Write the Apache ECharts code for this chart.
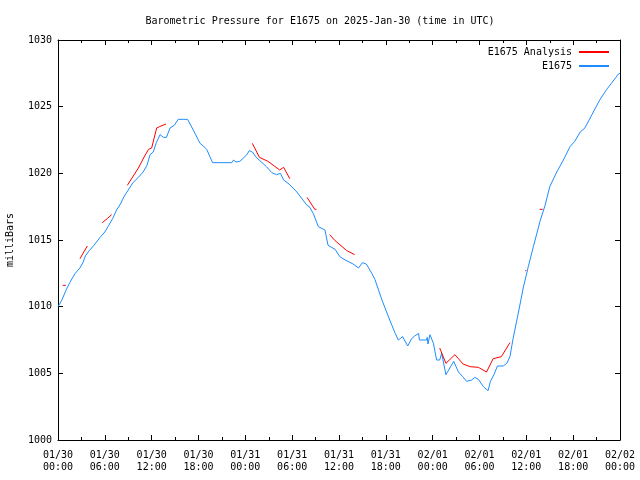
<!DOCTYPE html>
<html><head><meta charset="utf-8">
<script src="https://cdn.jsdelivr.net/npm/echarts@6/dist/echarts.min.js"></script>
<style>html,body{margin:0;padding:0;background:#fff}#c{width:640px;height:480px}</style>
</head><body><div id="c"></div>
<script>
// hours since 2025-01-30 00:00 UTC
const xTickLabels = ['01/30\n00:00','01/30\n06:00','01/30\n12:00','01/30\n18:00','01/31\n00:00','01/31\n06:00','01/31\n12:00','01/31\n18:00','02/01\n00:00','02/01\n06:00','02/01\n12:00','02/01\n18:00','02/02\n00:00'];

const stationHours = [0.0,0.5,1.0,1.5,2.2,2.8,3.2,3.5,4.0,4.6,5.4,6.0,6.5,7.0,7.5,8.0,8.5,9.0,9.6,10.3,10.9,11.4,11.8,12.2,12.6,13.07,13.5,13.9,14.35,14.9,15.4,16.05,16.3,16.6,17.33,18.2,18.7,19.05,19.8,22.25,22.5,22.8,23.3,24.2,24.5,24.9,25.4,26.7,27.4,28.0,28.5,28.9,29.6,29.8,30.6,31.9,32.2,32.7,33.35,34.2,34.6,35.5,36.1,36.8,37.0,37.8,38.5,39.0,39.5,39.7,40.2,40.6,40.8,41.5,42.5,43.2,43.6,44.15,44.4,44.8,45.3,45.7,46.2,46.3,47.2,47.3,47.4,47.65,48.1,48.5,48.9,49.15,49.7,50.2,50.7,51.3,51.85,52.35,53.0,53.4,53.85,54.5,55.1,55.4,55.85,56.3,57.05,57.5,57.9,58.3,59.0,59.6,60.25,60.9,61.4,61.75,62.4,63.0,63.9,64.75,65.6,66.2,66.9,67.5,68.4,69.4,70.3,70.9,71.8,72.0];
const stationValues = [1010.0,1010.5,1011.2,1011.8,1012.5,1012.9,1013.3,1013.8,1014.2,1014.6,1015.2,1015.6,1016.1,1016.6,1017.25,1017.7,1018.3,1018.75,1019.3,1019.7,1020.1,1020.6,1021.4,1021.6,1022.3,1022.9,1022.7,1022.7,1023.4,1023.6,1024.05,1024.05,1023.9,1024.05,1023.25,1022.25,1022.0,1021.8,1020.8,1020.8,1021.0,1020.85,1020.9,1021.4,1021.7,1021.6,1021.2,1020.5,1020.05,1019.9,1020.0,1019.5,1019.2,1019.3,1018.6,1017.6,1017.5,1017.0,1016.0,1015.75,1014.6,1014.3,1013.75,1013.5,1013.6,1013.2,1012.9,1013.3,1013.2,1013.2,1012.5,1012.05,1011.9,1010.5,1009.0,1008.0,1007.5,1007.75,1007.6,1007.05,1007.6,1007.8,1008.0,1007.5,1007.5,1007.7,1007.2,1007.9,1007.25,1006.0,1006.0,1006.5,1004.9,1005.4,1005.9,1005.1,1004.75,1004.4,1004.5,1004.7,1004.55,1004.0,1003.7,1004.4,1004.9,1005.55,1005.55,1005.75,1006.25,1007.6,1009.6,1011.4,1013.0,1014.5,1015.6,1016.4,1017.6,1019.0,1020.1,1021.0,1022.0,1022.4,1023.1,1023.4,1024.4,1025.5,1026.3,1026.75,1027.45,1027.5];

// analysis segments (null separates segments)
const analysisHours = [0.6,1.0,null,2.82,3.3,3.76,null,5.68,6.3,6.88,null,8.88,10.3,11.1,11.6,12.0,12.64,13.0,13.84,null,24.9,25.8,26.9,28.4,28.9,29.7,null,31.9,32.9,33.1,null,34.8,35.5,37.0,38.0,null,48.9,49.7,50.85,51.9,52.8,53.85,54.9,55.75,56.8,57.9,null,59.85,60.0,null,61.7,62.1];
const analysisValues = [1011.6,1011.6,null,1013.6,1014.1,1014.55,null,1016.3,1016.6,1016.9,null,1019.1,1020.4,1021.3,1021.8,1021.9,1023.4,1023.5,1023.7,null,1022.25,1021.2,1020.9,1020.25,1020.45,1019.6,null,1018.2,1017.3,1017.3,null,1015.4,1014.95,1014.2,1013.9,null,1006.9,1005.75,1006.4,1005.7,1005.5,1005.45,1005.1,1006.1,1006.25,1007.3,null,1012.7,1012.7,null,1017.3,1017.3];

const pair = (xs, ys) => xs.map((x, i) => (x === null ? [null, null] : [x, ys[i]]));
const font = 'DejaVu Sans Mono';
const chart = echarts.init(document.getElementById('c'), null, {renderer: 'canvas'});
const axisBase = {
  axisLine: {show: true, onZero: false, lineStyle: {color: '#000', width: 1}},
  splitLine: {show: false},
};
chart.setOption({
  animation: false,
  backgroundColor: '#fff',
  title: {text: 'Barometric Pressure for E1675 on 2025-Jan-30 (time in UTC)', left: 'center', top: 11,
    textStyle: {fontFamily: font, fontSize: 10, fontWeight: 'normal', color: '#000'}},
  grid: {left: 58, right: 20, top: 40, bottom: 40, containLabel: false, outerBoundsMode: 'none'},
  legend: {orient: 'vertical', right: 26, top: 42, align: 'right', itemWidth: 30, itemHeight: 2, itemGap: 4,
    icon: 'rect', textStyle: {fontFamily: font, fontSize: 10, color: '#000', padding: [0, 2, 0, 0]},
    data: ['E1675 Analysis', 'E1675']},
  xAxis: [
    Object.assign({type: 'value', min: 0, max: 72, interval: 6, position: 'bottom',
      axisTick: {show: true, inside: true, length: 5, lineStyle: {color: '#000'}},
      minorTick: {show: true, splitNumber: 2, length: 3, lineStyle: {color: '#000'}},
      axisLabel: {fontFamily: font, fontSize: 10, color: '#000', margin: 9, lineHeight: 12,
        formatter: v => xTickLabels[Math.round(v / 6)]}}, axisBase),
    Object.assign({type: 'value', min: 0, max: 72, interval: 6, position: 'top',
      axisTick: {show: true, inside: true, length: 5, lineStyle: {color: '#000'}},
      minorTick: {show: true, splitNumber: 2, length: 3, lineStyle: {color: '#000'}},
      axisLabel: {show: false}}, axisBase)
  ],
  yAxis: [
    Object.assign({type: 'value', min: 1000, max: 1030, interval: 5, position: 'left',
      name: 'milliBars', nameLocation: 'middle', nameGap: 43, nameRotate: 90,
      nameTextStyle: {fontFamily: font, fontSize: 10, color: '#000'},
      axisTick: {show: true, inside: true, length: 5, lineStyle: {color: '#000'}},
      axisLabel: {fontFamily: font, fontSize: 10, color: '#000', margin: 6, formatter: v => String(v)}}, axisBase),
    Object.assign({type: 'value', min: 1000, max: 1030, interval: 5, position: 'right',
      axisTick: {show: true, inside: true, length: 5, lineStyle: {color: '#000'}},
      axisLabel: {show: false}}, axisBase)
  ],
  series: [
    {name: 'E1675 Analysis', type: 'line', data: pair(analysisHours, analysisValues), showSymbol: false,
      symbol: 'none', connectNulls: false, lineStyle: {color: '#ff0000', width: 1}, itemStyle: {color: '#ff0000'}, z: 3},
    {name: 'E1675', type: 'line', data: pair(stationHours, stationValues), showSymbol: false,
      symbol: 'none', lineStyle: {color: '#1e8cff', width: 1}, itemStyle: {color: '#1e8cff'}, z: 2}
  ]
});
</script></body></html>
